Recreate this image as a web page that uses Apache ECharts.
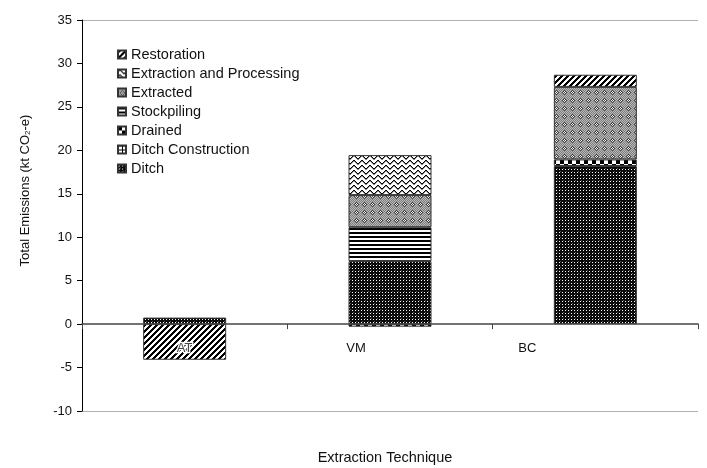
<!DOCTYPE html>
<html>
<head>
<meta charset="utf-8">
<script src="https://cdn.jsdelivr.net/npm/echarts@6/dist/echarts.min.js"></script>
<style>
  html, body { margin: 0; padding: 0; background: #fff; }
  #chart { width: 707px; height: 468px; }
</style>
</head>
<body>
<div id="chart"></div>
<script>
// Emissions by extraction technique (kt CO2-e), stacked by activity
const techniques = ['AT', 'VM', 'BC'];
const ditch = [0.75, 7.25, 18.2];
const ditchConstruction = ['-', '-', '-'];
const drained = ['-', -0.3, 0.75];
const stockpiling = ['-', 3.9, '-'];
const extracted = ['-', 3.7, 8.35];
const extractionProcessing = ['-', 4.6, '-'];
const restoration = [-4.1, '-', 1.4];
const yTicks = { min: -10, max: 35, step: 5 };

// Monochrome fill patterns built pixel by pixel on small canvases
function tile(w, h, fn) {
  const c = document.createElement('canvas');
  c.width = w; c.height = h;
  const ctx = c.getContext('2d');
  for (let y = 0; y < h; y++) {
    for (let x = 0; x < w; x++) {
      const col = fn(x, y);
      if (col) { ctx.fillStyle = col; ctx.fillRect(x, y, 1, 1); }
    }
  }
  return { image: c, repeat: 'repeat' };
}

const patRestoration = tile(6, 6, (x, y) => ((x + y) % 6) < 3 ? '#000' : '#fff');
const waveY = [1, 0, 0, 1, 2, 3, 3, 2];
const patExtraction = tile(8, 5, (x, y) => {
  if (y === waveY[x]) return '#000';
  if (y === (waveY[x] + 1) % 5) return '#888';
  return '#fff';
});
const patExtracted = tile(8, 8, (x, y) => {
  const d = Math.abs(x - 4) + Math.abs(y - 4);
  if (d <= 2) return (x + y) % 2 ? '#eee' : '#444';
  return (x + y) % 2 === 0 ? '#b8b8b8' : '#7e7e7e';
});
const patStockpiling = tile(1, 4, (x, y) => y < 2 ? '#000' : '#fff');
const patDrained = tile(8, 8, (x, y) => ((Math.floor(x / 4) + Math.floor(y / 4)) % 2) ? '#fff' : '#000');
const patDitchConstruction = tile(4, 4, (x, y) => (x === 0 || y === 0) ? '#000' : '#fff');
const patDitch = tile(6, 6, (x, y) => {
  if ((x === 1 || x === 4) && (y === 1 || y === 4)) return '#fff';
  if ((x === 2 && y === 3) || (x === 5 && y === 0)) return '#555';
  return '#0a0a0a';
});

const FONT = 'Liberation Sans, Arial, sans-serif';
const border = { borderColor: '#333', borderWidth: 1 };

function barSeries(name, values, pattern) {
  return {
    name: name,
    type: 'bar',
    stack: 'total',
    barWidth: 83,
    data: values,
    itemStyle: Object.assign({ color: pattern }, border)
  };
}

const chart = echarts.init(document.getElementById('chart'), null, { renderer: 'canvas' });

const splitColors = [];
for (let v = yTicks.min; v <= yTicks.max; v += yTicks.step) {
  splitColors.push(v === yTicks.min || v === yTicks.max ? '#b0b0b0' : 'rgba(0,0,0,0)');
}

chart.setOption({
  animation: false,
  backgroundColor: '#fff',
  grid: { left: 82, right: 9, top: 20, bottom: 57 },
  legend: {
    orient: 'vertical',
    left: 112,
    top: 42,
    icon: 'rect',
    itemWidth: 8,
    itemHeight: 8,
    itemGap: 4,
    textStyle: { fontFamily: FONT, fontSize: 14.5, lineHeight: 15, color: '#111' },
    data: ['Restoration', 'Extraction and Processing', 'Extracted', 'Stockpiling',
           'Drained', 'Ditch Construction', 'Ditch']
  },
  xAxis: {
    type: 'category',
    data: techniques,
    z: 5,
    axisLine: { onZero: true, lineStyle: { color: '#444', width: 1.5 } },
    axisTick: { show: true, length: 5, lineStyle: { color: '#444' } },
    axisLabel: {
      margin: -69,
      formatter: (v, i) => '{c' + i + '|' + v + '}',
      rich: {
        c0: { fontFamily: FONT, fontSize: 13, color: '#444', textBorderColor: '#fff', textBorderWidth: 2.5 },
        c1: { fontFamily: FONT, fontSize: 13, color: '#111', padding: [0, 68, 0, 0] },
        c2: { fontFamily: FONT, fontSize: 13, color: '#111', padding: [0, 136, 0, 0] }
      }
    }
  },
  yAxis: {
    type: 'value',
    min: yTicks.min,
    max: yTicks.max,
    interval: yTicks.step,
    name: 'Total Emissions (kt CO{sub|2}-e)',
    nameLocation: 'middle',
    nameGap: 50,
    nameTextStyle: {
      fontFamily: FONT, fontSize: 13, color: '#111',
      padding: [0, 0, 0, 50],
      rich: { sub: { fontFamily: FONT, fontSize: 8, color: '#111', verticalAlign: 'bottom', padding: [6, 0, 0, 0] } }
    },
    axisLine: { show: true, lineStyle: { color: '#000', width: 1 } },
    axisTick: { show: true, length: 5, lineStyle: { color: '#000' } },
    axisLabel: { fontFamily: FONT, fontSize: 13, color: '#111', margin: 10 },
    splitLine: { show: true, lineStyle: { color: splitColors, width: 1 } }
  },
  graphic: [{
    type: 'text',
    x: 385,
    y: 458,
    style: {
      text: 'Extraction Technique',
      fontFamily: FONT,
      fontSize: 14.5,
      fill: '#111',
      textAlign: 'center',
      textVerticalAlign: 'middle'
    }
  }],
  series: [
    barSeries('Ditch', ditch, patDitch),
    barSeries('Ditch Construction', ditchConstruction, patDitchConstruction),
    barSeries('Drained', drained, patDrained),
    barSeries('Stockpiling', stockpiling, patStockpiling),
    barSeries('Extracted', extracted, patExtracted),
    barSeries('Extraction and Processing', extractionProcessing, patExtraction),
    barSeries('Restoration', restoration, patRestoration)
  ]
});
</script>
</body>
</html>
